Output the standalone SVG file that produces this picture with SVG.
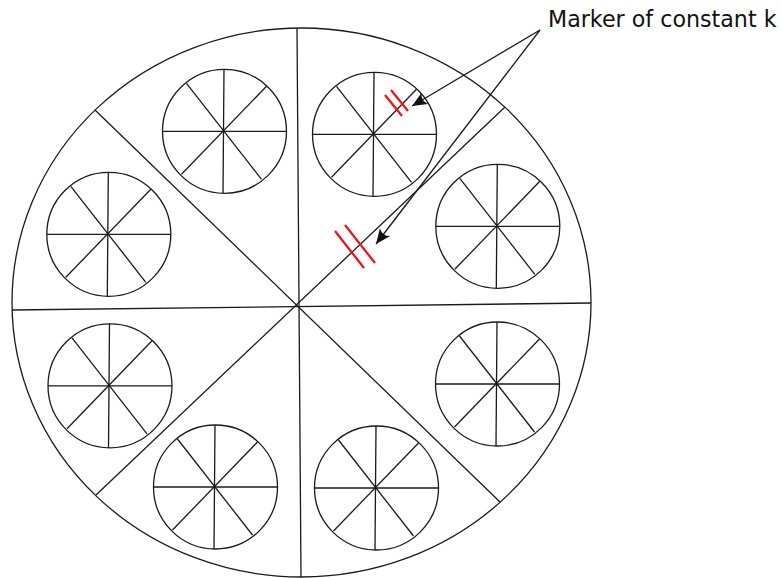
<svg xmlns="http://www.w3.org/2000/svg" xmlns:xlink="http://www.w3.org/1999/xlink" width="781" height="578" viewBox="0 0 781 578">
<style>
.ln{fill:none;stroke:#1a1a1a;stroke-width:1.3}
.red{fill:none;stroke:#ee1111;stroke-width:2.2}
.lbl{font-family:"DejaVu Sans",Verdana,sans-serif;font-size:22.2px;fill:#111}
</style>
<defs>
<marker id="ah" markerUnits="userSpaceOnUse" markerWidth="20" markerHeight="16" viewBox="-16 -8 17 16" refX="0" refY="0" orient="auto">
<path d="M0,0 L-15,-6.5 Q-10,0 -15,6.5 Z" fill="#111"/>
</marker>
<g id="wheel">
<circle cx="0" cy="0" r="62" class="ln"/>
<line x1="-0.5" y1="-62" x2="-1.5" y2="62" class="ln"/>
<line x1="-62" y1="0" x2="62" y2="0" class="ln"/>
<line x1="-38" y1="-48" x2="37" y2="48" class="ln"/>
<line x1="42" y1="-45" x2="-43" y2="43" class="ln"/>
</g>
</defs>
<rect width="781" height="578" fill="#fff"/>
<g id="outer">
<ellipse cx="301.5" cy="302.5" rx="289.5" ry="274.5" class="ln"/>
<line x1="297" y1="28" x2="301" y2="577" class="ln"/>
<line x1="12" y1="310" x2="591" y2="303" class="ln"/>
<line x1="95" y1="110" x2="500" y2="502" class="ln"/>
<line x1="505" y1="107" x2="96" y2="495" class="ln"/>
</g>
<g id="wheel1"><use xlink:href="#wheel" transform="translate(224.5,131.3)"/></g>
<g id="wheel2"><use xlink:href="#wheel" transform="translate(374.5,134.3)"/></g>
<g id="wheel3"><use xlink:href="#wheel" transform="translate(497.8,226.3)"/></g>
<g id="wheel4"><use xlink:href="#wheel" transform="translate(497.5,384)"/></g>
<g id="wheel5"><use xlink:href="#wheel" transform="translate(376.5,488)"/></g>
<g id="wheel6"><use xlink:href="#wheel" transform="translate(215.5,487)"/></g>
<g id="wheel7"><use xlink:href="#wheel" transform="translate(110,385.8)"/></g>
<g id="wheel8"><use xlink:href="#wheel" transform="translate(108.8,234.3)"/></g>
<g id="markers">
<line x1="385" y1="95" x2="402" y2="116" class="red"/>
<line x1="391" y1="90" x2="408" y2="111" class="red"/>
<line x1="335" y1="231" x2="364" y2="268" class="red"/>
<line x1="345" y1="225" x2="375" y2="263" class="red"/>
</g>
<g id="label">
<text x="548" y="27" class="lbl">Marker of constant k</text>
</g>
<g id="connectors">
<line x1="540" y1="30" x2="412" y2="106" class="ln" marker-end="url(#ah)"/>
<line x1="540" y1="30" x2="376" y2="244" class="ln" marker-end="url(#ah)"/>
</g>
</svg>
